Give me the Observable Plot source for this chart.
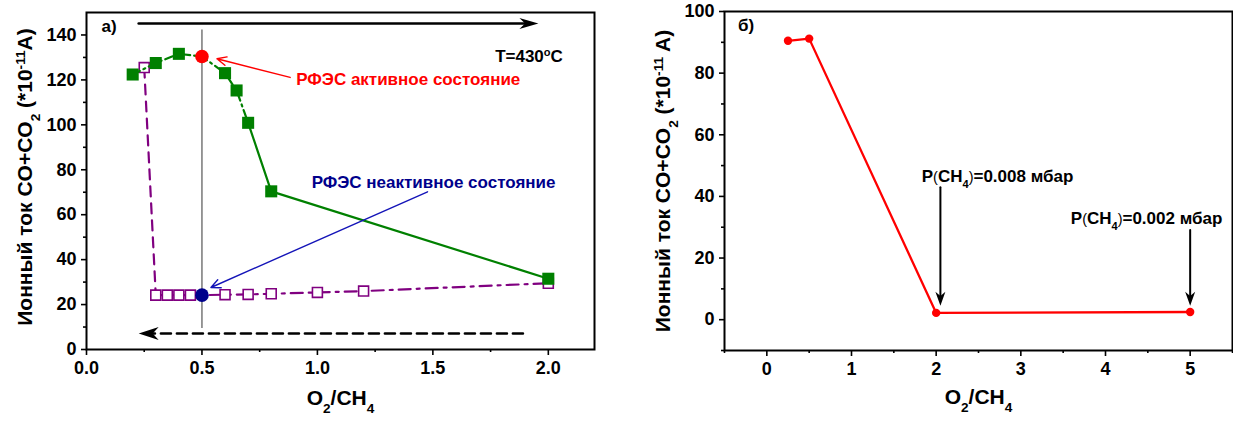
<!DOCTYPE html>
<html>
<head>
<meta charset="utf-8">
<script src="https://cdn.jsdelivr.net/npm/d3@7"></script>
<script src="https://cdn.jsdelivr.net/npm/@observablehq/plot@0.6"></script>
<style>
  html, body { margin: 0; padding: 0; background: #fff; }
  #wrap { display: flex; width: 1233px; height: 421px; overflow: hidden; }
  #wrap svg { flex: none; }
</style>
</head>
<body>
<div id="wrap"></div>
<script>
// ---------- Panel а) data ----------
const activeX = [0.2, 0.3, 0.4, 0.5, 0.6, 0.65, 0.7, 0.8, 2.0];
const activeY = [122.4, 127.5, 131.6, 130.4, 123.0, 115.3, 100.9, 70.4, 31.5];
const inactiveX = [0.25, 0.3, 0.35, 0.4, 0.45, 0.5, 0.6, 0.7, 0.8, 1.0, 1.2, 2.0];
const inactiveY = [125.5, 24.2, 24.2, 24.2, 24.2, 24.2, 24.4, 24.5, 24.8, 25.4, 26.0, 29.5];
const xpsX = [0.5, 0.5];
const xpsY = [130.4, 24.2];
const xpsColors = ["#ff0000", "#00008b"];

const leftXMajor = [0, 0.5, 1.0, 1.5, 2.0];
const leftXMinor = [0.25, 0.75, 1.25, 1.75];
const leftYMajor = [0, 20, 40, 60, 80, 100, 120, 140];
const leftYMinor = [10, 30, 50, 70, 90, 110, 130];

const guideLine = [{x: 0.5, y1: 9.3, y2: 142.2}];
const sweepForward = [{x1: 0.226, x2: 1.957, y: 145.1}];
const sweepBackward = [{x1: 1.89, x2: 0.226, y: 7.1}];
const noteLabels = ["РФЭС активное состояние", "РФЭС неактивное состояние"];
const noteTextX = [0.908, 0.975];
const noteTextY = [120.1, 74.3];
const noteArrowFrom = [[0.882, 121.1], [1.477, 70.2]];
const noteArrowTo = [[0.565, 129.4], [0.539, 27.6]];
const noteColors = ["#ff0000", "#00008b"];
const noteArrowColors = ["#ff0000", "#1414b8"];

// ---------- Panel б) data ----------
const rightX = [0.25, 0.5, 2.0, 5.0];
const rightY = [90.5, 91.2, 2.2, 2.5];
const rightXMajor = [0, 1, 2, 3, 4, 5];
const rightXMinor = [-0.5, 0.5, 1.5, 2.5, 3.5, 4.5, 5.5];
const rightYMajor = [0, 20, 40, 60, 80, 100];
const rightYMinor = [-10, 10, 30, 50, 70, 90];
const pressureLabels = ["P(CH4)=0.008 мбар", "P(CH4)=0.002 мбар"];
const pressureTextX = [1.83, 3.59];
const pressureTextY = [46.4, 32.7];
const pressureArrowX = [2.05, 5.0];
const pressureArrowTop = [43.0, 29.1];
const pressureArrowTip = [4.5, 4.5];

// ---------- helpers ----------
const FONT = "'Liberation Sans', Arial, Helvetica, sans-serif";
function head(dx, dy, L, W, notch) {
  return {
    draw(ctx) {
      const px = -dy, py = dx;
      const bx = -dx * L, by = -dy * L;
      const nx = -dx * L * notch, ny = -dy * L * notch;
      ctx.moveTo(0, 0);
      ctx.lineTo(bx + px * W / 2, by + py * W / 2);
      ctx.lineTo(nx, ny);
      ctx.lineTo(bx - px * W / 2, by - py * W / 2);
      ctx.closePath();
    }
  };
}
function enrich(svg, key, parts) {
  d3.select(svg).selectAll("text")
    .filter(function () { return this.textContent === key; })
    .each(function () {
      const t = d3.select(this);
      t.text(null);
      for (const [s, k] of parts) {
        const sp = t.append("tspan").text(s);
        if (k === "sub") sp.attr("baseline-shift", "sub").attr("font-size", "65%");
        if (k === "sup") sp.attr("baseline-shift", "super").attr("font-size", "65%");
        if (k === "thin") sp.attr("font-weight", "normal").attr("font-size", "85%");
      }
    });
}
const baseStyle = {fontFamily: FONT, fontSize: "18px", fontWeight: "bold", color: "black", background: "white", overflow: "visible"};

// ---------- Panel а) ----------
const activeRows = activeX.map((x, i) => ({x, y: activeY[i]}));
const inactiveRows = inactiveX.map((x, i) => ({x, y: inactiveY[i]}));
const xpsRows = xpsX.map((x, i) => ({x, y: xpsY[i], c: xpsColors[i]}));
const noteRows = noteLabels.map((t, i) => ({
  t, x: noteTextX[i], y: noteTextY[i],
  x1: noteArrowFrom[i][0], y1: noteArrowFrom[i][1],
  x2: noteArrowTo[i][0], y2: noteArrowTo[i][1],
  c: noteColors[i], ac: noteArrowColors[i]
}));

const left = Plot.plot({
  width: 616, height: 421,
  marginLeft: 86, marginRight: 22, marginTop: 12, marginBottom: 72,
  x: {domain: [0, 2.2]},
  y: {domain: [0, 150]},
  style: baseStyle,
  marks: [
    Plot.axisX(leftXMajor, {tickSize: 6, tickPadding: 6, tickFormat: d => d.toFixed(1), label: null, strokeWidth: 1.6, fontSize: 18}),
    Plot.axisX(leftXMinor, {tickSize: 3, tickFormat: () => "", label: null, strokeWidth: 1.6}),
    Plot.axisY(leftYMajor, {tickSize: 5, tickPadding: 5, tickFormat: d => String(d), label: null, strokeWidth: 1.6, fontSize: 18}),
    Plot.axisY(leftYMinor, {tickSize: 3, tickFormat: () => "", label: null, strokeWidth: 1.6}),
    Plot.ruleX(guideLine, {x: "x", y1: "y1", y2: "y2", stroke: "#555", strokeWidth: 1.2}),
    // sweep arrows
    Plot.arrow(sweepForward, {x1: "x1", x2: "x2", y1: "y", y2: "y", headLength: 0, insetEnd: 12, stroke: "black", strokeWidth: 2.6}),
    Plot.dot(sweepForward, {x: "x2", y: "y", symbol: head(1, 0, 19, 11, 0.7), r: 5, fill: "black", stroke: "none"}),
    Plot.arrow(sweepBackward, {x1: "x1", x2: "x2", y1: "y", y2: "y", headLength: 0, insetEnd: 12, stroke: "black", strokeWidth: 2.6, strokeDasharray: "10,6"}),
    Plot.dot(sweepBackward, {x: "x2", y: "y", symbol: head(-1, 0, 20, 13, 0.7), r: 5, fill: "black", stroke: "none"}),
    // inactive (backward) series
    Plot.line(inactiveRows.filter(d => d.x <= 0.3), {x: "x", y: "y", stroke: "#800080", strokeWidth: 2.2, strokeDasharray: "10,7"}),
    Plot.line(inactiveRows.filter(d => d.x >= 0.3), {x: "x", y: "y", stroke: "#800080", strokeWidth: 2.2, strokeDasharray: "12,6,3,6"}),
    Plot.dot(inactiveRows.filter(d => d.x !== 0.5), {x: "x", y: "y", symbol: "square", r: 5.6, fill: "white", stroke: "#800080", strokeWidth: 1.6}),
    // active (forward) series
    Plot.line(activeRows.filter(d => d.x <= 0.7), {x: "x", y: "y", stroke: "#008000", strokeWidth: 2.2, strokeDasharray: "8,4,2,4"}),
    Plot.line(activeRows.filter(d => d.x >= 0.7), {x: "x", y: "y", stroke: "#008000", strokeWidth: 2.2}),
    Plot.dot(activeRows.filter(d => d.x !== 0.5), {x: "x", y: "y", symbol: "square", r: 6.8, fill: "#008000", stroke: "none"}),
    // XPS states
    Plot.dot(xpsRows, {x: "x", y: "y", r: 6.8, fill: "c", stroke: "none"}),
    // annotation arrows + texts
    Plot.arrow(noteRows, {x1: "x1", y1: "y1", x2: "x2", y2: "y2", stroke: "ac", strokeWidth: 1.4, headLength: 11, headAngle: 50}),
    Plot.text(noteRows, {x: "x", y: "y", text: "t", fill: "c", textAnchor: "start", fontSize: 17, fontWeight: "bold"}),
    Plot.text(["T=430oC"], {x: [2.063], y: [130.4], text: d => d, textAnchor: "end", fontSize: 17, fontWeight: "bold", fill: "black"}),
    Plot.text(["а)"], {x: [0.065], y: [143.7], text: d => d, textAnchor: "start", fontSize: 17, fontWeight: "bold", fill: "black"}),
    // axis titles
    Plot.text(["O2/CH4 left"], {frameAnchor: "bottom", dy: 55, textAnchor: "middle", text: d => d, fontSize: 21, fontWeight: "bold", fill: "black"}),
    Plot.text(["Ylabel left"], {frameAnchor: "left", dx: -61, dy: -4, rotate: -90, textAnchor: "middle", text: d => d, fontSize: 21, fontWeight: "bold", fill: "black"}),
    Plot.frame({stroke: "black", strokeWidth: 2})
  ]
});

// ---------- Panel б) ----------
const rightRows = rightX.map((x, i) => ({x, y: rightY[i]}));
const pressureRows = pressureLabels.map((t, i) => ({
  t, tx: pressureTextX[i], ty: pressureTextY[i],
  x: pressureArrowX[i], y1: pressureArrowTop[i], y2: pressureArrowTip[i]
}));

const right = Plot.plot({
  width: 617, height: 421,
  marginLeft: 108, marginRight: 1, marginTop: 11, marginBottom: 71,
  x: {domain: [-0.5, 5.5]},
  y: {domain: [-10, 100]},
  style: baseStyle,
  marks: [
    Plot.axisX(rightXMajor, {tickSize: 6, tickPadding: 6, tickFormat: d => String(d), label: null, strokeWidth: 1.6, fontSize: 18}),
    Plot.axisX(rightXMinor, {tickSize: 3, tickFormat: () => "", label: null, strokeWidth: 1.6}),
    Plot.axisY(rightYMajor, {tickSize: 5, tickPadding: 5, tickFormat: d => String(d), label: null, strokeWidth: 1.6, fontSize: 18}),
    Plot.axisY(rightYMinor, {tickSize: 3, tickFormat: () => "", label: null, strokeWidth: 1.6}),
    Plot.line(rightRows, {x: "x", y: "y", stroke: "#ff0000", strokeWidth: 2.3}),
    Plot.dot(rightRows, {x: "x", y: "y", r: 4.2, fill: "#ff0000", stroke: "none"}),
    Plot.arrow(pressureRows, {x1: "x", x2: "x", y1: "y1", y2: "y2", headLength: 0, insetEnd: 9, stroke: "black", strokeWidth: 2}),
    Plot.dot(pressureRows, {x: "x", y: "y2", symbol: head(0, 1, 14, 10, 0.7), r: 5, fill: "black", stroke: "none"}),
    Plot.text(pressureRows, {x: "tx", y: "ty", text: "t", textAnchor: "start", fontSize: 17, fontWeight: "bold", fill: "black"}),
    Plot.text(["б)"], {x: [-0.34], y: [95.6], text: d => d, textAnchor: "start", fontSize: 17, fontWeight: "bold", fill: "black"}),
    Plot.text(["O2/CH4 right"], {frameAnchor: "bottom", dy: 53, textAnchor: "middle", text: d => d, fontSize: 21, fontWeight: "bold", fill: "black"}),
    Plot.text(["Ylabel right"], {frameAnchor: "left", dx: -61, dy: 0, rotate: -90, textAnchor: "middle", text: d => d, fontSize: 21, fontWeight: "bold", fill: "black"}),
    Plot.frame({stroke: "black", strokeWidth: 2})
  ]
});

const wrap = document.getElementById("wrap");
wrap.appendChild(left);
wrap.appendChild(right);

// rich text (sub/superscripts)
const o2ch4 = [["O", ""], ["2", "sub"], ["/CH", ""], ["4", "sub"]];
enrich(left, "O2/CH4 left", o2ch4);
enrich(right, "O2/CH4 right", o2ch4);
enrich(left, "Ylabel left", [["Ионный ток CO+CO", ""], ["2", "sub"], [" (*10", ""], ["-11", "sup"], ["A)", ""]]);
enrich(right, "Ylabel right", [["Ионный ток CO+CO", ""], ["2", "sub"], [" (*10", ""], ["-11", "sup"], [" A)", ""]]);
enrich(left, "T=430oC", [["T=430", ""], ["o", "sup"], ["C", ""]]);
enrich(right, "P(CH4)=0.008 мбар", [["P", ""], ["(", "thin"], ["CH", ""], ["4", "sub"], [")", "thin"], ["=0.008 мбар", ""]]);
enrich(right, "P(CH4)=0.002 мбар", [["P", ""], ["(", "thin"], ["CH", ""], ["4", "sub"], [")", "thin"], ["=0.002 мбар", ""]]);
</script>
</body>
</html>
